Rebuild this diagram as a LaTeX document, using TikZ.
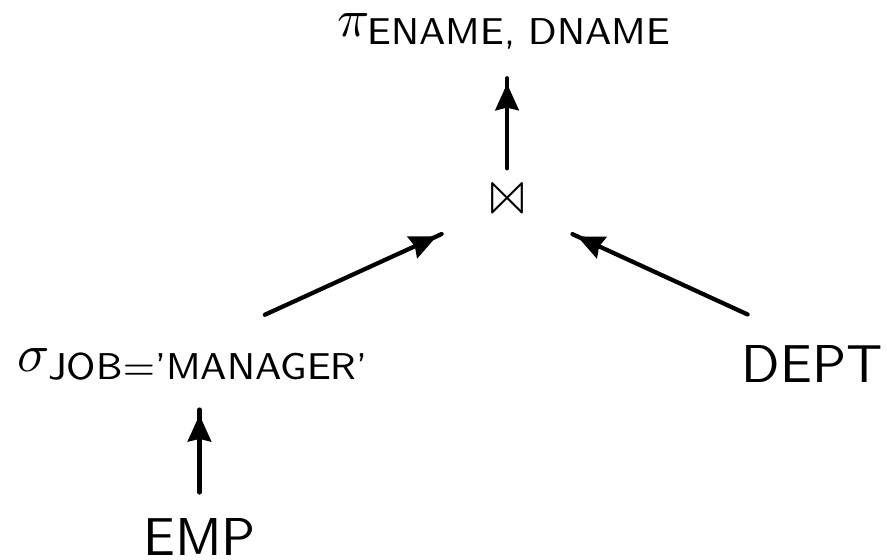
\documentclass[tikz,border=0pt]{standalone}
\usepackage{amsmath}
\usepackage{latexsym}
\usetikzlibrary{arrows.meta,calc,decorations.markings}

\tikzset{
  rel/.style={inner sep=0pt},
  flow/.style={line width=0.8pt, line cap=round, postaction={decorate},
    decoration={markings,
      mark=at position -1pt with {\arrow{Stealth[length=5pt,width=4.4pt,inset=0.5pt]}}}},
}

\begin{document}
\begin{tikzpicture}
\useasboundingbox (0,0) rectangle (5.848,3.686);

% operators
\node[rel] (proj) at (3.329,3.481) {$\pi_{\textsf{ENAME, DNAME}}$};
\node[rel] (join) at (3.343,2.340) {$\Join$};
\node[rel] (sel)  at (1.279,1.285) {$\sigma_{\textsf{JOB}=\textsf{'MANAGER'}}$};

% relations
\node[rel,font=\sffamily] (emp)  at (1.315,0.145) {EMP};
\node[rel,font=\sffamily] (dept) at (5.354,1.289) {DEPT};

\coordinate (selfoot) at (emp.north |- sel.south);
\coordinate (projfoot) at (join.north |- proj.south);

% edges
\draw[flow] ($(emp.north)!4.7pt!(selfoot)$) -- ($(selfoot)!5.3pt!(emp.north)$);
\draw[flow] ($(sel.north)!14.6pt!(join)$) -- ($(join)!13.5pt!(sel.north)$);
\draw[flow] ($(dept.north)!13.3pt!(join)$) -- ($(join)!13.5pt!(dept.north)$);
\draw[flow] ($(join.north)!4.3pt!(projfoot)$) -- ($(projfoot)!5.3pt!(join.north)$);
\end{tikzpicture}
\end{document}
